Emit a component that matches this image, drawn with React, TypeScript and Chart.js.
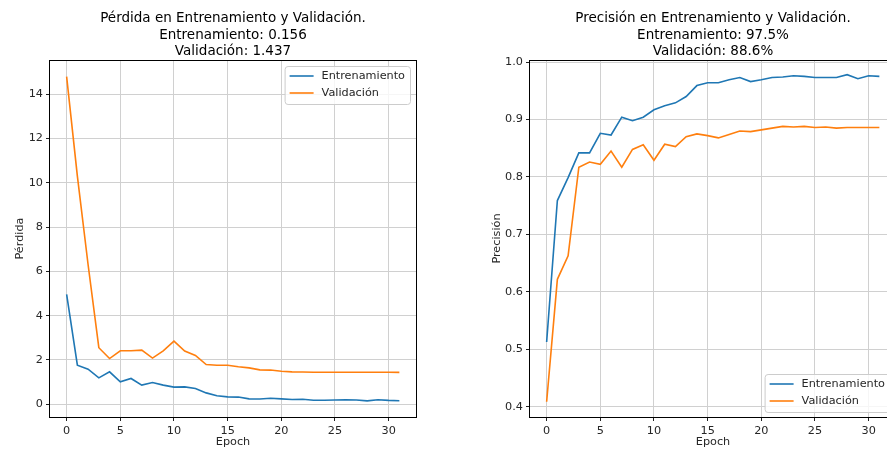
import React, { useEffect, useRef } from 'react';
import { Chart, registerables } from 'chart.js';

Chart.register(...registerables);

// ---------------- data ----------------
const epochs = [0, 1, 2, 3, 4, 5, 6, 7, 8, 9, 10, 11, 12, 13, 14, 15, 16, 17, 18, 19, 20, 21, 22, 23, 24, 25, 26, 27, 28, 29, 30, 31];

const lossTrain = [4.96, 1.76, 1.58, 1.19, 1.46, 1.01, 1.16, 0.86, 0.98, 0.86, 0.77, 0.78, 0.71, 0.51, 0.38, 0.33, 0.32, 0.24, 0.23, 0.27, 0.24, 0.21, 0.22, 0.18, 0.18, 0.19, 0.2, 0.19, 0.15, 0.2, 0.17, 0.156];
const lossVal = [14.8, 10.3, 6.3, 2.55, 2.06, 2.41, 2.41, 2.44, 2.08, 2.41, 2.85, 2.4, 2.2, 1.79, 1.76, 1.76, 1.69, 1.64, 1.55, 1.54, 1.49, 1.46, 1.45, 1.44, 1.44, 1.44, 1.44, 1.44, 1.44, 1.44, 1.44, 1.437];

const accTrain = [0.513, 0.759, 0.799, 0.842, 0.842, 0.876, 0.873, 0.904, 0.898, 0.904, 0.917, 0.924, 0.929, 0.94, 0.959, 0.964, 0.964, 0.969, 0.973, 0.966, 0.969, 0.973, 0.974, 0.976, 0.975, 0.973, 0.973, 0.973, 0.978, 0.971, 0.976, 0.975];
const accVal = [0.409, 0.622, 0.663, 0.817, 0.826, 0.822, 0.845, 0.817, 0.848, 0.856, 0.829, 0.857, 0.853, 0.87, 0.875, 0.872, 0.868, 0.874, 0.88, 0.879, 0.882, 0.885, 0.888, 0.887, 0.888, 0.886, 0.887, 0.885, 0.886, 0.886, 0.886, 0.886];

const epochTicks = [0, 5, 10, 15, 20, 25, 30];
const lossTicks = [0, 2, 4, 6, 8, 10, 12, 14];
const accTicks = [0.4, 0.5, 0.6, 0.7, 0.8, 0.9, 1.0];

const seriesNames = ['Entrenamiento', 'Validación'];
const seriesColors = ['#1f77b4', '#ff7f0e'];

const lossTitle = ['Pérdida en Entrenamiento y Validación.', 'Entrenamiento: 0.156', 'Validación: 1.437'];
const accTitle = ['Precisión en Entrenamiento y Validación.', 'Entrenamiento: 97.5%', 'Validación: 88.6%'];

const FONT = '"DejaVu Sans", sans-serif';
const TEXT = '#262626';

type PanelOpts = {
  title: string[];
  yLabel: string;
  yLabelX: number;
  legendPos: 'upper right' | 'lower right';
};

function decorPlugin(o: PanelOpts) {
  return {
    id: 'mplDecor',
    afterDatasetsDraw(chart: any) {
      const { ctx, chartArea: a } = chart;
      ctx.save();
      ctx.strokeStyle = '#000';
      ctx.lineWidth = 1;
      ctx.strokeRect(Math.round(a.left) - 0.5, Math.round(a.top) + 0.5, Math.round(a.right - a.left) + 1, Math.round(a.bottom - a.top) - 0);
      ctx.restore();
    },
    afterDraw(chart: any) {
      const { ctx, chartArea: a } = chart;
      const cx = (a.left + a.right) / 2;
      ctx.save();
      // title
      ctx.fillStyle = '#000';
      ctx.font = `13.5px ${FONT}`;
      ctx.textAlign = 'center';
      ctx.textBaseline = 'alphabetic';
      const base = [22, 38.5, 55];
      o.title.forEach((t, i) => ctx.fillText(t, cx, base[i]));
      // x label
      ctx.fillStyle = TEXT;
      ctx.font = `11.25px ${FONT}`;
      ctx.textBaseline = 'middle';
      ctx.fillText('Epoch', cx, 442);
      // y label
      ctx.save();
      ctx.translate(o.yLabelX, (a.top + a.bottom) / 2);
      ctx.rotate(-Math.PI / 2);
      ctx.fillText(o.yLabel, 0, 0);
      ctx.restore();
      // legend
      ctx.font = `11.25px ${FONT}`;
      const tw = Math.max(...seriesNames.map((n) => ctx.measureText(n).width));
      const w = 5 + 24 + 8 + tw + 5;
      const h = 38;
      const right = a.right - 6;
      const left = right - w;
      const top = o.legendPos === 'upper right' ? a.top + 6 : a.bottom - 5 - h;
      ctx.beginPath();
      ctx.roundRect(left + 0.5, top + 0.5, w, h, 3);
      ctx.fillStyle = 'rgba(255,255,255,0.8)';
      ctx.fill();
      ctx.strokeStyle = '#cccccc';
      ctx.lineWidth = 1;
      ctx.stroke();
      seriesNames.forEach((n, i) => {
        const y = top + 10 + i * 17;
        ctx.beginPath();
        ctx.moveTo(left + 5, y);
        ctx.lineTo(left + 29, y);
        ctx.strokeStyle = seriesColors[i];
        ctx.lineWidth = 1.6;
        ctx.stroke();
        ctx.fillStyle = TEXT;
        ctx.textAlign = 'left';
        ctx.textBaseline = 'middle';
        ctx.fillText(n, left + 37, y + 0.5);
      });
      ctx.restore();
    },
  };
}

function makeConfig(
  train: number[],
  val: number[],
  yMin: number,
  yMax: number,
  yTicks: number[],
  yFmt: (v: number) => string,
  yWidth: number,
  padRight: number,
  o: PanelOpts
): any {
  const tickFont = { family: FONT, size: 11.25 };
  return {
    type: 'line',
    data: {
      datasets: [train, val].map((arr, k) => ({
        label: seriesNames[k],
        data: epochs.map((e, i) => ({ x: e, y: arr[i] })),
        borderColor: seriesColors[k],
        backgroundColor: seriesColors[k],
        borderWidth: 1.6,
        pointRadius: 0,
        tension: 0,
        fill: false,
      })),
    },
    options: {
      responsive: false,
      animation: false,
      events: [],
      layout: { padding: { left: 0, right: padRight, top: 60, bottom: 0 } },
      plugins: { legend: { display: false }, title: { display: false }, tooltip: { enabled: false } },
      scales: {
        x: {
          type: 'linear',
          min: -1.55,
          max: 32.55,
          afterBuildTicks: (s: any) => {
            s.ticks = epochTicks.map((v) => ({ value: v }));
          },
          afterFit: (s: any) => {
            s.height = 32;
          },
          ticks: {
            autoSkip: false,
            maxRotation: 0,
            padding: 3,
            color: TEXT,
            font: tickFont,
            callback: (v: any) => String(v),
          },
          grid: { color: '#d0d0d0', lineWidth: 1, tickLength: 4, tickColor: '#222' },
          border: { display: false },
        },
        y: {
          type: 'linear',
          min: yMin,
          max: yMax,
          afterBuildTicks: (s: any) => {
            s.ticks = yTicks.map((v) => ({ value: v }));
          },
          afterFit: (s: any) => {
            s.width = yWidth;
          },
          ticks: {
            autoSkip: false,
            padding: 3,
            color: TEXT,
            font: tickFont,
            callback: (v: any) => yFmt(Number(v)),
          },
          grid: { color: '#d0d0d0', lineWidth: 1, tickLength: 4, tickColor: '#222' },
          border: { display: false },
        },
      },
    },
    plugins: [decorPlugin(o)],
  };
}

export default function App() {
  const lossRef = useRef<HTMLCanvasElement | null>(null);
  const accRef = useRef<HTMLCanvasElement | null>(null);

  useEffect(() => {
    const c1 = new Chart(
      lossRef.current as HTMLCanvasElement,
      makeConfig(lossTrain, lossVal, -0.58, 15.55, lossTicks, (v) => String(v), 50, 27, {
        title: lossTitle,
        yLabel: 'Pérdida',
        yLabelX: 20,
        legendPos: 'upper right',
      })
    );
    const c2 = new Chart(
      accRef.current as HTMLCanvasElement,
      makeConfig(accTrain, accVal, 0.3825, 1.0035, accTicks, (v) => v.toFixed(1), 87, 7, {
        title: accTitle,
        yLabel: 'Precisión',
        yLabelX: 54,
        legendPos: 'lower right',
      })
    );
    return () => {
      c1.destroy();
      c2.destroy();
    };
  }, []);

  return (
    <div
      style={{
        position: 'fixed',
        left: 0,
        top: 0,
        width: 887,
        height: 449,
        overflow: 'hidden',
        background: '#fff',
      }}
    >
      <canvas
        ref={lossRef}
        width={443}
        height={449}
        style={{ position: 'absolute', left: 0, top: 0, width: 443, height: 449 }}
      />
      <canvas
        ref={accRef}
        width={460}
        height={449}
        style={{ position: 'absolute', left: 443, top: 0, width: 460, height: 449 }}
      />
    </div>
  );
}
